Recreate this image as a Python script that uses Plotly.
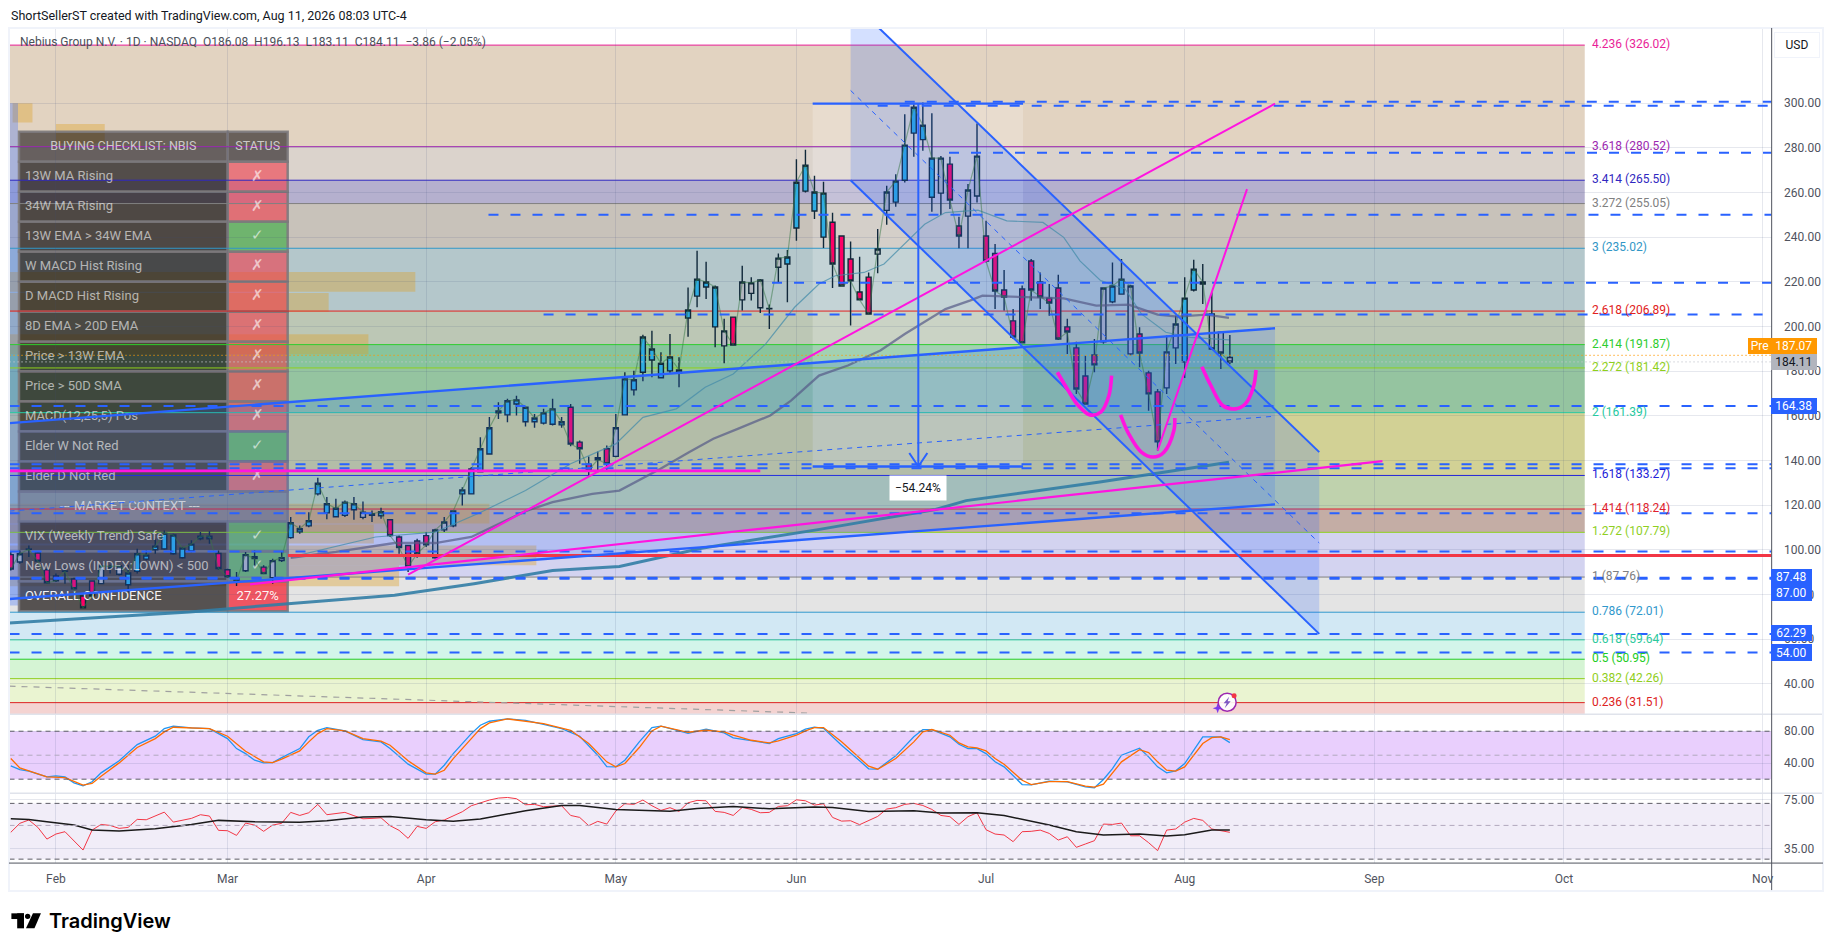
import plotly.graph_objects as go

W, H = 1835, 951
FONT = "Roboto"

# ---------- daily candles ----------
bar_index = list(range(-5, 131))
impulse = list("pggppp" "gppp" "ggg" "bbbbbbbbbb" "ppp" "g" "pp" "gg" "bbbbbbbb" "g" "bb" "ppppp" "gg"
               "bbbbbbbbbbbbb" "ppppp" "g" "bbbbbbbbbbb" "g" "p" "ggggg" "bbbbb" "ppppp" "gg" "bbbbb" "g" "pp" "gg"
               "ppppppppppppp" "g" "bb" "g" "ppp" "gg" "bbb" "ggg")
opens = [97.8,94.5,100.4,98.5,91.0,88.2,90.5,86.9,79.3,86.0,84.8,91.8,89.0,84.3,90.3,95.8,100.0,100.4,98.2,96.4,
         99.5,104.9,104.9,98.3,91.0,87.0,90.6,96.9,92.2,87.5,95.1,105.4,108.0,110.7,125.0,116.5,114.8,115.4,117.9,114.5,
         115.4,115.2,113.4,105.7,101.9,103.9,106.3,96.4,108.9,110.7,125.0,125.0,134.9,142.9,161.3,160.4,165.3,157.3,157.3,156.7,
         156.2,155.9,163.8,148.2,138.3,141.2,145.2,141.8,160.4,171.6,179.5,185.0,177.0,180.1,179.0,203.8,213.6,217.7,199.8,191.3,
         204.2,211.9,214.8,208.4,208.1,226.5,228.0,244.1,260.6,251.7,240.0,246.7,240.5,230.2,215.4,222.1,232.4,252.0,255.7,265.5,
         286.6,283.7,257.9,259.7,272.7,245.0,249.4,258.4,240.5,232.7,216.3,202.5,216.8,229.3,219.9,212.7,217.2,199.8,190.4,177.8,
         187.2,193.1,211.0,214.5,187.7,196.6,179.2,170.7,172.5,190.4,184.1,216.3,219.0,205.6,197.4,186.08]
highs = [99.0,99.7,101.9,99.0,91.5,89.3,91.9,87.5,79.6,86.3,93.7,93.3,93.0,93.0,100.4,99.7,104.9,108.6,107.2,101.2,
         104.2,107.9,108.3,99.7,91.5,90.0,99.0,99.7,93.0,96.0,99.0,114.6,110.9,116.8,132.2,123.6,122.8,122.1,123.6,121.6,
         117.6,118.8,113.4,106.4,101.9,104.9,107.9,109.4,114.6,117.6,128.0,137.0,150.4,159.4,166.1,167.6,169.0,163.8,160.8,163.1,
         167.6,159.4,165.3,148.9,141.8,144.0,146.7,160.8,179.5,180.2,196.3,198.1,188.4,196.6,186.2,217.5,233.9,229.0,218.3,203.4,
         204.2,227.2,222.0,221.2,209.8,232.7,234.2,274.9,279.1,267.5,264.8,250.9,240.5,238.0,231.2,224.2,243.6,263.0,268.2,295.1,
         299.5,300.3,295.5,276.4,276.0,249.1,263.8,290.9,247.3,236.9,225.3,207.8,218.3,230.2,224.2,219.0,223.2,203.4,193.2,186.9,
         194.4,217.5,228.7,230.2,218.7,199.6,180.2,172.0,195.9,204.8,222.0,229.9,228.0,215.3,197.4,196.13]
lows = [90.7,93.7,96.7,94.6,84.8,85.5,84.8,82.1,73.7,79.1,84.5,89.3,88.5,81.0,89.3,95.2,98.2,100.0,97.8,96.0,
        98.9,104.2,102.7,91.0,87.5,83.7,90.0,92.2,89.0,84.8,94.5,104.9,107.2,110.1,124.3,113.6,114.6,114.6,113.4,113.6,
        112.4,113.9,105.7,98.2,90.0,96.4,101.2,96.0,107.9,110.1,119.8,124.7,134.7,142.9,158.6,157.1,160.1,155.2,154.6,156.1,
        155.6,154.6,146.4,138.5,133.2,134.7,135.5,141.4,160.1,169.1,175.5,177.2,177.0,178.7,172.8,195.4,208.6,212.3,190.7,183.5,
        191.4,207.1,211.6,206.0,198.9,219.8,210.8,238.4,260.0,248.1,235.1,217.2,217.8,200.4,211.9,205.6,223.8,245.6,253.6,264.5,
        276.0,278.7,251.4,249.9,252.6,235.0,235.0,255.5,228.7,207.8,207.1,194.4,192.5,211.5,207.8,204.8,193.9,187.7,169.8,165.0,
        179.5,192.2,210.4,214.2,187.0,181.7,162.3,144.4,169.8,183.2,176.9,215.7,210.1,189.5,181.0,183.11]
closes = [91.3,98.2,100.2,94.9,85.2,86.1,90.3,82.5,74.0,79.4,92.7,92.5,92.7,89.6,98.2,97.6,101.6,107.4,106.6,100.7,
          102.5,106.1,106.1,91.6,87.9,86.1,97.8,96.0,89.3,95.1,96.4,112.1,109.4,113.0,129.8,120.6,118.6,121.3,120.6,116.8,
          116.1,117.0,106.3,101.0,92.4,98.2,102.2,108.8,112.4,117.4,126.8,136.2,145.2,154.6,162.2,166.7,167.1,163.8,159.0,161.3,
          163.1,157.3,147.3,145.2,135.8,140.3,138.5,154.6,176.5,176.1,195.3,189.9,183.5,186.3,180.5,207.4,221.2,219.9,217.7,198.0,
          191.7,219.9,219.5,220.8,207.9,230.6,231.1,264.6,272.2,260.2,259.7,228.0,218.1,220.4,211.9,205.6,234.7,260.2,265.1,281.2,
          298.2,290.1,275.4,275.4,256.6,240.5,261.1,276.3,229.3,215.9,213.2,195.3,192.7,216.3,213.2,210.5,194.4,197.5,172.0,165.3,
          182.8,217.2,218.1,221.2,218.1,188.1,169.8,148.3,188.6,201.1,212.7,225.7,219.9,189.9,188.1,184.11]

# ---------- moving averages (bar, value) ----------
ma_fast_x = [26,35.4,42,46.7,52,57,62,65,68.7,71.9,75,78.6,81.8,84.5,86.3,89.5,91.7,94,96.2,98.5,102.1,105.3,109.3,111.6,113.4,115.7,118.4,120.2,122.9,125.6,129.9]
ma_fast_y = [96.7,105.7,107.9,116.1,126.5,138.5,147.4,159.3,163.1,172.8,178.7,192.2,208.6,219,222.7,224.2,228,236.9,245.8,251,252.1,247.3,246.6,239.9,229.4,220.5,216.8,205.6,197.4,195.1,194]
ma_mid_x = [26,31,37.5,42,46,52,55,59.4,62.4,66.9,70.1,72.8,75.5,79.1,81.4,84.5,87.7,91.3,94,95.8,98.5,101.2,102.6,107.5,111.6,115.2,118.8,122,124.2,127.4,129.9]
ma_mid_y = [96.4,99,103,103,105.7,117.3,121.3,125,126.5,136.2,143.7,149.7,154.1,160.1,166.8,178,182.5,189.2,196.6,201.1,207.8,211.6,213.8,213.1,212.6,209.3,209.8,205.3,204.4,205.3,203.8]
ma_slow_x = [-5.2,14.8,25.7,37.5,46.3,55,62.4,71.5,84.4,97.4,100.8,115.6,129.9]
ma_slow_y = [67.2,72.1,75.8,79.6,84.8,90.7,92.5,100.7,109,118,122,130.3,139.2]

# ---------- Fibonacci extension ----------
fib_ratio = ["4.236","3.618","3.414","3.272","3","2.618","2.414","2.272","2","1.618","1.414","1.272","1","0.786","0.618","0.5","0.382","0.236"]
fib_price = [326.02,280.52,265.50,255.05,235.02,206.89,191.87,181.42,161.39,133.27,118.24,107.79,87.76,72.01,59.64,50.95,42.26,31.51]
fib_color = ["#E91E98","#9C27B0","#2F27C0","#808080","#3196C6","#E12121","#2ECC2E","#8FD01C","#26C9A0","#2222D8","#E01E2E","#8FCF1F","#808080","#3098CC","#2BC99C","#22CC22","#90CE20","#DD2222"]
fib_band = ["#E2D3C1","#DBD3CC","#B5B0CE","#C8C2BA","#B4C7CB","#BCC7B5","#88C49D","#95C4A0","#D2D195","#BFD2AD","#C4ADA5","#D3D3F0","#E4E4E4","#D2E8F4","#D3F5EA","#D5F4D4","#EAF4D1","#F4D3D1"]
fib_end_bar = 169.3
fib_label_bar = 170.1

# ---------- horizontal levels ----------
BAR_MIN, BAR_MAX = -5.14, 190.0
level_price = [300.6,298.8,277.8,250.0,219.6,205.3,164.38,138.3,136.5,116.3,99.2,87.48,87.0,62.29,54.0]
level_start = [94,91,98.9,47.9,79.3,54,BAR_MIN,BAR_MIN,BAR_MIN,BAR_MIN,BAR_MIN,BAR_MIN,BAR_MIN,BAR_MIN,BAR_MIN]
level_end = [BAR_MAX,BAR_MAX,BAR_MAX,BAR_MAX,BAR_MAX,189.0,BAR_MAX,BAR_MAX,BAR_MAX,BAR_MAX,BAR_MAX,BAR_MAX,BAR_MAX,BAR_MAX,BAR_MAX]

# ---------- drawings ----------
down_upper_x, down_upper_y = [88,139.9], [345.9,143.7]
down_lower_x, down_lower_y = [88,139.9], [265.5,62.3]
down_mid_x, down_mid_y = [88,139.9], [305.7,103.0]
up_upper_x, up_upper_y = [BAR_MIN,135], [156.7,199.2]
up_lower_x, up_lower_y = [BAR_MIN,135], [77.9,120.3]
up_mid_x, up_mid_y = [BAR_MIN,135], [117.3,159.8]
mag1_x, mag1_y = [39,135], [88.8,299.8]
mag2_x, mag2_y = [21.5,146.9], [84.5,139.7]
mag3_x, mag3_y = [122,131.9], [144.4,261.5]
mag_flat_x, mag_flat_y = [BAR_MIN,78], [135.3,135.3]
u1_x, u1_y = [110.9,112.1,113.2,114.5,115.7,116.6,116.9], [179.5,171.3,164.6,160.4,161.6,169.0,178.0]
u2_x, u2_y = [117.9,118.8,120.2,121.5,122.7,123.8,123.9], [160.4,151.9,143.7,141.5,143.7,153.4,159.0]
u3_x, u3_y = [126.9,127.9,129.2,130.6,131.7,132.6,132.9], [182.0,173.5,164.6,163.1,165.3,172.8,180.5]
old_trend_x, old_trend_y = [BAR_MIN,83.7], [38.9,26.8]
range_x0, range_x1, range_top, range_bottom, range_mid = 83.8, 107.1, 299.8, 137.3, 95.5
red_level = 97.4

# zones: bar0, bar1, price0, price1
zones = [(-4.8,-2.6,300,291.3),(0,5.4,290.7,282),(BAR_MIN,39.8,224.4,215.5),(BAR_MIN,30.2,215,206.6),(BAR_MIN,34.6,196.5,187.6),
         (BAR_MIN,48,120.6,111.8),(BAR_MIN,35.2,111.3,102.8),(BAR_MIN,53.2,101.9,93),(BAR_MIN,38,93,83.6)]

# ---------- oscillators ----------
stk_x = [-5,-4,-3,-1,0,1,2,3,4,5,7,9,11,12,13,15,17,19,20,21,22,23,24,25,27,28,29,30,32,34,36,37,39,41,42,43,44,46,47,48,50,52,54,56,58,60,61,62,63,64.6,
         66,67,69,70,72,74,75,77,79,80,82,83,84,85,87,89,90,91,93,95,96,97,99,100,101,102,103,104,105,107,108,110,112,114,115,116,117,118,120,121,122,123,124,125,127,128,129,130]
stk_y = [36.7,32,30,22.9,24.2,22.9,15.4,11.7,16.7,27.9,43,63.3,73.8,83.3,86.3,84.2,83.3,70.8,58.3,52,43.8,40.4,40.8,47,58.3,73,81.2,84.6,80.4,69.6,66.7,58.3,38.8,26.3,26.3,37.5,52,77,87.5,92.5,95.4,93.7,88.7,83.3,73.8,50,35.8,35.4,43.8,66.7,
         84.6,86.3,80.4,77.5,82.5,78,71.7,67.9,64.6,70.8,77,82.5,85,83.7,62.5,43,33,32.5,49.2,73,82.1,82.1,73,63.7,58.3,58.3,52,41.7,35.4,13.3,12.9,17.5,16.7,10.4,9.2,19.6,33.3,50,58.7,47.9,35.4,27.9,30.4,39.6,72.9,72.9,72.9,65.8]
std_x = [-5,-4,-3,-1,1,3,4,5,7,9,11,12,13,17,19,21,23,24,25,27,28,29,30,32,34,36,37,39,41,42,43,44,46,47,48,50,54,57,59,61,62,63,64.6,
         66,67,69,70,72,74,75,77,79,80,82,83,84,85,87,89,90,91,93,95,96,97,99,100,101,102,103,104,105,107,108,110,112,114,115,116,117,118,120,121,122,123,124,125,127,128,129,130]
std_y = [45.8,34.2,30.4,22.9,22,12.5,14.6,23.7,40.4,59.6,70.8,79.2,85,83.3,73.8,55,41.7,40.8,45,55.4,66.7,77,83.3,80.4,70.8,67.5,62.5,43,28,26.3,31.2,45.8,70.8,83.3,90.4,95.4,89.6,81.2,64.6,41.7,35.4,39.6,59.6,
         80.4,86.3,81.2,78.7,81.2,79.2,75,68.7,65.4,68,75,80.4,84.6,84.6,66.7,45.8,36.2,32.5,45.8,66.7,79.2,82.1,75,65.4,60.4,59.2,55.4,45.8,38.7,18.7,13.3,17,17,11.2,10,13.7,27.9,41.7,57,53.3,41.7,31.2,30,35.4,64.6,72,72.9,69.6]
rsi_y = [48.3,55.6,58.3,52.3,42.8,46.9,48.8,41.5,33.9,50.1,54.7,53.9,51.5,52.3,58.8,58.5,61.8,64.7,56.6,58.3,59.6,62.6,61.5,49.9,49.6,45.8,55.8,54.2,49.1,54.2,55.6,64.5,62,64.2,71,62.6,63.4,64.5,61.8,59.3,59.6,60.1,53.7,49.9,43.4,53.1,51.5,56.9,58.3,61.5,65,69.9,72.3,74.5,76.1,76.6,75.6,70.7,71,69.1,69.6,69.9,62,60.4,53.7,57.2,55,65.6,71.5,71,
         74.5,69.9,66.1,68.3,65.3,72.3,74.2,73.9,65.3,64.5,62,68.5,66.9,64.2,64.5,69.3,69.9,74.7,73.9,70.4,71.5,60.4,57.4,57.7,54.5,57.7,61.2,67.2,68.3,71,71.8,70.1,66.9,62,61,54.7,61,64.2,50.4,46.9,46.1,40.7,48.8,49.1,50.1,47.4,42,44.7,36.1,38.8,41.5,55,54.7,55.8,45.5,45.5,39.9,33.4,50.1,51,56.6,59.6,58,51,49.9,48.3]
rsi_ma_x = [-5,-3,-1,2,4,7,11,15,18,22,27,30,34,37,41,44,47,52,56,58,62,64.6,68,71,75,79,84,86,90,95,98,102,105,110,113,116,120,123,125,128,130]
rsi_ma_y = [59.3,58.8,56.9,54.2,50.1,49.3,51.2,54.7,58,56.9,56.4,57.7,60.7,61.2,58.5,57.2,59.1,65.8,70.1,70.1,66.9,66.1,65.5,67.7,69.3,67.4,68.8,68.5,65.3,65.8,63.9,64.2,62,54.2,48.8,46.1,46.9,45.3,46.4,50.1,50.1]
stoch_levels = [80,50,20]
rsi_levels = [71.8,53.9,26.5]

# ---------- axes ----------
month_bars = [0,19,41,62,82,103,125,146,167,189]
month_names = ["Feb","Mar","Apr","May","Jun","Jul","Aug","Sep","Oct","Nov"]
price_ticks = [300,280,260,240,220,200,180,160,140,120,100,80,60,40]

# ---------- checklist ----------
table_rows = ["13W MA Rising","34W MA Rising","13W EMA > 34W EMA","W MACD Hist Rising","D MACD Hist Rising","8D EMA > 20D EMA",
              "Price > 13W EMA","Price > 50D SMA","MACD(12,25,5) Pos","Elder W Not Red","Elder D Not Red","--- MARKET CONTEXT ---",
              "VIX (Weekly Trend) Safe","New Lows (INDEX:LOWN) < 500","OVERALL CONFIDENCE"]
table_status = ["✗","✗","✓","✗","✗","✗","✗","✗","✗","✓","✗","","✓","✓","27.27%"]

# ---------- geometry helpers ----------
BAR0, STEP = 56.0, 9.04
X0, X1 = BAR0 + BAR_MIN * STEP, BAR0 + BAR_MAX * STEP
XR = 1825.0
Y_TOP, Y_P, Y_S, Y_B = 27.0, 714.0, 793.0, 863.0
P300, PPU = 102.3, 2.235
px = lambda x: x / W
py = lambda y: 1 - y / H
bar_of = lambda x: (x - BAR0) / STEP
price_of = lambda y: 300 - (y - P300) / PPU

def over_white(hexc, a=0.6):
    c = [int(hexc[k:k+2], 16) for k in (1, 3, 5)]
    b = [max(0, min(255, round((v - 255 * (1 - a)) / a))) for v in c]
    return f"rgba({b[0]},{b[1]},{b[2]},{a})"

BLUE = "#2962FF"
MAG = "#FF14E0"
shapes, annos = [], []

# Fib bands
for k in range(len(fib_price)):
    low = fib_price[k + 1] if k + 1 < len(fib_price) else 20
    shapes.append(dict(type="rect", xref="x", yref="y", x0=BAR_MIN, x1=fib_end_bar, y0=fib_price[k], y1=low,
                       fillcolor=over_white(fib_band[k]), line_width=0, layer="below"))
# price range box and zones
shapes.append(dict(type="rect", xref="x", yref="y", x0=range_x0, x1=range_x1, y0=range_bottom, y1=range_top,
                   fillcolor="rgba(255,255,255,0.22)", line_width=0, layer="below"))
for z in zones:
    shapes.append(dict(type="rect", xref="x", yref="y", x0=z[0], x1=z[1], y0=z[2], y1=z[3],
                       fillcolor="rgba(222,160,40,0.38)", line_width=0, layer="below"))
shapes.append(dict(type="rect", xref="x", yref="y", x0=BAR_MIN, x1=-4.2, y0=75, y1=300,
                   fillcolor="rgba(41,98,255,0.28)", line_width=0, layer="below"))

# table cells
FRAME = "rgba(125,122,125,0.9)"
def cell(x0, x1, y0, y1, fill):
    shapes.append(dict(type="rect", xref="x", yref="y", x0=bar_of(x0), x1=bar_of(x1), y0=price_of(y1), y1=price_of(y0),
                       fillcolor=fill, line=dict(color=FRAME, width=2.5), layer="below"))
cell(19, 228, 131, 161, "rgba(25,20,22,0.6)")
cell(228, 288, 131, 161, "rgba(25,20,22,0.6)")
for r, (lab, st) in enumerate(zip(table_rows, table_status)):
    y0 = 161 + 30 * r
    if st == "":
        cell(19, 288, y0, y0 + 30, "rgba(120,120,132,0.72)")
        continue
    cell(19, 228, y0, y0 + 30, "rgba(25,20,18,0.7)")
    col = "rgba(76,175,80,0.72)" if st == "✓" else ("rgba(242,54,69,0.58)" if st == "✗" else "rgba(242,54,69,0.82)")
    cell(228, 288, y0, y0 + 30, col)

# fib lines (over the table)
for p, c in zip(fib_price, fib_color):
    shapes.append(dict(type="line", xref="x", yref="y", x0=BAR_MIN, x1=fib_end_bar, y0=p, y1=p,
                       line=dict(color=c, width=1), layer="below"))

# oscillator bands
shapes.append(dict(type="rect", xref="x", yref="y2", x0=BAR_MIN, x1=BAR_MAX, y0=20, y1=80,
                   fillcolor="rgba(155,37,246,0.22)", line_width=0, layer="below"))
shapes.append(dict(type="rect", xref="x", yref="y3", x0=BAR_MIN, x1=BAR_MAX, y0=rsi_levels[2], y1=rsi_levels[0],
                   fillcolor="rgba(126,87,194,0.11)", line_width=0, layer="below"))
for lv, ya in [(v, "y2") for v in stoch_levels] + [(v, "y3") for v in rsi_levels]:
    mid = lv in (stoch_levels[1], rsi_levels[1])
    shapes.append(dict(type="line", xref="x", yref=ya, x0=BAR_MIN, x1=BAR_MAX, y0=lv, y1=lv,
                       line=dict(color="#B2A9BE" if mid else "#5d5d66", width=1, dash="5px,4px"), layer="above"))

# frame and separators
for y in (Y_P, Y_S):
    shapes.append(dict(type="line", xref="paper", yref="paper", x0=px(9), x1=px(XR), y0=py(y), y1=py(y),
                       line=dict(color="#E0E3EB", width=1.5), layer="above"))
shapes.append(dict(type="rect", xref="paper", yref="paper", x0=px(9), x1=px(XR), y0=py(891), y1=py(27),
                   line=dict(color="#F0F3FA", width=2), layer="above"))
shapes.append(dict(type="line", xref="paper", yref="paper", x0=px(X1), x1=px(X1), y0=py(890), y1=py(27),
                   line=dict(color="#50535E", width=1), layer="above"))
shapes.append(dict(type="line", xref="paper", yref="paper", x0=px(9), x1=px(XR), y0=py(Y_B), y1=py(Y_B),
                   line=dict(color="#50535E", width=1), layer="above"))

# logo
def prect(x0, x1, y0, y1, c="#000000"):
    shapes.append(dict(type="rect", xref="paper", yref="paper", x0=px(x0), x1=px(x1), y0=py(y1), y1=py(y0),
                       fillcolor=c, line_width=0, layer="above"))
def ppath(pts, c):
    d = "M " + " L ".join(f"{px(a)},{py(b)}" for a, b in pts) + " Z"
    shapes.append(dict(type="path", xref="paper", yref="paper", fillcolor=c, line_width=0, layer="above", path=d))
prect(11.4, 24, 913.3, 919)
prect(17.2, 24, 913.3, 928.3)
shapes.append(dict(type="circle", xref="paper", yref="paper", x0=px(25), x1=px(30.4), y0=py(919), y1=py(913.6),
                   fillcolor="#000000", line_width=0, layer="above"))
ppath([(33, 913.3), (41, 913.3), (34.5, 928.3), (26, 928.3)], "#000000")

# AI icon
shapes.append(dict(type="circle", xref="paper", yref="paper", x0=px(1219.5), x1=px(1237.5), y0=py(711), y1=py(693),
                   fillcolor="rgba(255,255,255,0.9)", line=dict(color="#9C27B0", width=1.5), layer="above"))
ppath([(1230.5, 696.5), (1225, 703), (1228, 703), (1226, 708), (1232, 701), (1229, 701)], "#7E57C2")
ppath([(1219, 703), (1220.3, 706.7), (1224, 708), (1220.3, 709.3), (1219, 713), (1217.7, 709.3), (1214, 708), (1217.7, 706.7)], "#7C3AED")
shapes.append(dict(type="circle", xref="paper", yref="paper", x0=px(1233), x1=px(1238), y0=py(698), y1=py(693),
                   fillcolor="#F23645", line_width=0, layer="above"))

def label(text, x, y, size=12, color="#131722", anchor="left", family=FONT, weight=None):
    annos.append(dict(text=text, x=px(x), y=py(y), xref="paper", yref="paper", showarrow=False, xanchor=anchor,
                      yanchor="middle", font=dict(size=size, color=color, family=family, weight=weight)))

def tag(text, x0, x1, y0, y1, bg, fg="#FFFFFF", border=None):
    annos.append(dict(text=text, x=px((x0 + x1) / 2), y=py((y0 + y1) / 2), xref="paper", yref="paper", showarrow=False,
                      xanchor="center", yanchor="middle", width=x1 - x0, height=y1 - y0, bgcolor=bg, borderpad=0,
                      bordercolor=border or bg, borderwidth=1 if border else 0, font=dict(size=12, color=fg, family=FONT)))

label("ShortSellerST created with TradingView.com, Aug 11, 2026 08:03 UTC-4", 9, 15, 12.5)
label("Nebius Group N.V. · 1D · NASDAQ  O186.08  H196.13  L183.11  C184.11  −3.86 (−2.05%)", 18, 41, 12, "#4A5058")
label("TradingView", 47, 921, 20, "#000000", family="Inter", weight=600)
tag("USD", 1777, 1821, 32, 56, "#FFFFFF", "#131722", "#F0F3FA")
tag("Pre", 1750, 1773.5, 337, 353, "#FF9800")
tag("187.07", 1773.5, 1819, 337, 353, "#FF9800")
tag("184.11", 1773.5, 1819, 353, 369, "#B2B5BE", "#131722")
tag("164.38", 1773.5, 1819, 397, 413, BLUE)
tag("87.48", 1773.5, 1814, 569, 585, BLUE)
tag("87.00", 1773.5, 1814, 585, 601, BLUE)
tag("62.29", 1773.5, 1814, 625, 641, BLUE)
tag("54.00", 1773.5, 1814, 644, 661, BLUE)
annos.append(dict(text="−54.24%", x=range_mid, y=127.6, xref="x", yref="y", showarrow=False, bgcolor="#FFFFFF",
                  borderpad=5, font=dict(size=12, color="#131722", family=FONT)))

fig = go.Figure()

def line(x, y, color, width=1, dash=None, ya="y", shape="linear", fill=None, fc=None):
    fig.add_trace(go.Scatter(x=x, y=y, mode="lines", yaxis=ya, hoverinfo="skip", fill=fill, fillcolor=fc,
                             line=dict(color=color, width=width, dash=dash, shape=shape)))

# channel fills
line(down_upper_x + down_lower_x[::-1], down_upper_y + down_lower_y[::-1], "rgba(0,0,0,0)", 0, fill="toself", fc="rgba(41,98,255,0.2)")
line(up_upper_x + up_lower_x[::-1], up_upper_y + up_lower_y[::-1], "rgba(0,0,0,0)", 0, fill="toself", fc="rgba(41,98,255,0.18)")

# table text, beneath the candles
fig.add_trace(go.Scatter(x=[bar_of(123.5), bar_of(258)], y=[price_of(146), price_of(146)], mode="text",
                         text=["BUYING CHECKLIST: NBIS", "STATUS"], textposition="middle center", hoverinfo="skip",
                         textfont=dict(size=12.5, color="rgba(255,255,255,0.68)", family=FONT)))
rows_y = [price_of(176 + 30 * r) for r in range(len(table_rows))]
is_mkt = [s == "" for s in table_status]
fig.add_trace(go.Scatter(x=[bar_of(25) if not m else bar_of(60) for m in is_mkt], y=rows_y, mode="text", text=table_rows,
                         textposition="middle right", hoverinfo="skip",
                         textfont=dict(size=13, family=FONT,
                                       color=["rgba(255,255,255,0.95)" if r == len(table_rows) - 1 else "rgba(255,255,255,0.6)" for r in range(len(table_rows))])))
fig.add_trace(go.Scatter(x=[bar_of(258)] * len(table_rows), y=rows_y, mode="text", text=table_status,
                         textposition="middle center", hoverinfo="skip",
                         textfont=dict(size=[15] * (len(table_rows) - 1) + [13], family=FONT,
                                       color=["rgba(255,255,255,0.95)" if r == len(table_rows) - 1 else "rgba(255,255,255,0.62)" for r in range(len(table_rows))])))

# moving averages and close line
line(ma_fast_x, ma_fast_y, "rgba(70,140,170,0.75)", 1.2)
line(ma_mid_x, ma_mid_y, "rgba(85,90,135,0.7)", 2.3)
line(ma_slow_x, ma_slow_y, "rgba(50,125,165,0.9)", 3)
line(bar_index, closes, "rgba(56,120,70,0.5)", 1.2)

# candles
for code, colr in (("b", "#2EACE2"), ("p", "#FF0066"), ("g", "#B2B5BE")):
    idx = [k for k, c in enumerate(impulse) if c == code]
    fig.add_trace(go.Candlestick(
        x=[bar_index[k] for k in idx], open=[opens[k] for k in idx], high=[highs[k] for k in idx],
        low=[lows[k] for k in idx], close=[closes[k] for k in idx], hoverinfo="skip", whiskerwidth=0,
        increasing=dict(fillcolor=colr, line=dict(color="#10283A", width=1.4)),
        decreasing=dict(fillcolor=colr, line=dict(color="#10283A", width=1.4))))

# levels
for p, a, b in zip(level_price, level_start, level_end):
    line([a, b], [p, p], BLUE, 2, dash="10px,12px")
line([BAR_MIN, BAR_MAX], [187.07, 187.07], "#FF9800", 1.2, dash="1px,3px")
line([BAR_MIN, BAR_MAX], [184.11, 184.11], "#C4C7CE", 1.2, dash="1px,3px")
line([25.7, BAR_MAX], [red_level, red_level], "#F23645", 3)

# channels
for xs, ys, w, d in ((down_upper_x, down_upper_y, 2, None), (down_lower_x, down_lower_y, 2, None), (down_mid_x, down_mid_y, 1, "5px,5px"),
                     (up_upper_x, up_upper_y, 2.4, None), (up_lower_x, up_lower_y, 2.4, None), (up_mid_x, up_mid_y, 1, "5px,5px")):
    line(xs, ys, BLUE, w, dash=d)

# magenta drawings
line(mag_flat_x, mag_flat_y, MAG, 2.6)
line(mag1_x, mag1_y, MAG, 2)
line(mag2_x, mag2_y, MAG, 2.2)
line(mag3_x, mag3_y, MAG, 2)
for ux, uy in ((u1_x, u1_y), (u2_x, u2_y), (u3_x, u3_y)):
    line(ux, uy, MAG, 3.6, shape="spline")
line(old_trend_x, old_trend_y, "#A0A0A0", 1.2, dash="6px,6px")

# price range tool
line([range_x0, range_x1], [range_top, range_top], BLUE, 2.4)
line([range_x0, range_x1], [range_bottom, range_bottom], BLUE, 2.4)
line([range_mid, range_mid], [range_top, range_bottom], BLUE, 2)
line([range_mid - 1, range_mid, range_mid + 1], [range_bottom + 6, range_bottom, range_bottom + 6], BLUE, 2)

# fib labels
fig.add_trace(go.Scatter(x=[fib_label_bar] * len(fib_price), y=fib_price, mode="text", hoverinfo="skip",
                         text=[f"{r} ({p:.2f})" for r, p in zip(fib_ratio, fib_price)], textposition="middle right",
                         textfont=dict(size=12, color=fib_color, family=FONT)))

# oscillators
line(stk_x, stk_y, "#2196F3", 1.3, ya="y2")
line(std_x, std_y, "#FF6D00", 1.3, ya="y2")
line(bar_index, rsi_y, "#F23645", 1, ya="y3")
line(rsi_ma_x, rsi_ma_y, "#1A1A1A", 1.5, ya="y3")

GRID = "rgba(60,80,120,0.13)"
def yax(domain, rng, ticks, fmt=".2f"):
    return dict(domain=domain, range=rng, side="right", anchor="x", tickmode="array", tickvals=ticks, tickformat=fmt,
                showgrid=True, gridcolor=GRID, gridwidth=1, zeroline=False, showline=False, ticks="outside", ticklen=9,
                tickcolor="rgba(0,0,0,0)", tickfont=dict(size=12, color="#50535E", family=FONT))

fig.update_layout(
    width=W, height=H, margin=dict(l=0, r=0, t=0, b=0), paper_bgcolor="#FFFFFF", plot_bgcolor="#FFFFFF",
    showlegend=False, boxmode="overlay", boxgap=0.22, hovermode=False, shapes=shapes, annotations=annos,
    xaxis=dict(domain=[px(X0), px(X1)], range=[BAR_MIN, BAR_MAX], anchor="y3", tickmode="array", tickvals=month_bars,
               ticktext=month_names, showgrid=True, gridcolor=GRID, zeroline=False, showline=False, ticks="outside",
               ticklen=5, tickcolor="rgba(0,0,0,0)", rangeslider=dict(visible=False),
               tickfont=dict(size=12, color="#50535E", family=FONT)),
    yaxis=yax([py(Y_P), py(Y_TOP)], [price_of(Y_P), price_of(Y_TOP)], price_ticks),
    yaxis2=yax([py(Y_S), py(Y_P)], [2.5, 101.25], [80, 40]),
    yaxis3=yax([py(Y_B), py(Y_S)], [23.3, 80.1], [75, 35]),
)

fig.write_html("out.html", config=dict(displayModeBar=False),
               post_script="document.body.style.margin='0';document.body.style.overflow='hidden';")
